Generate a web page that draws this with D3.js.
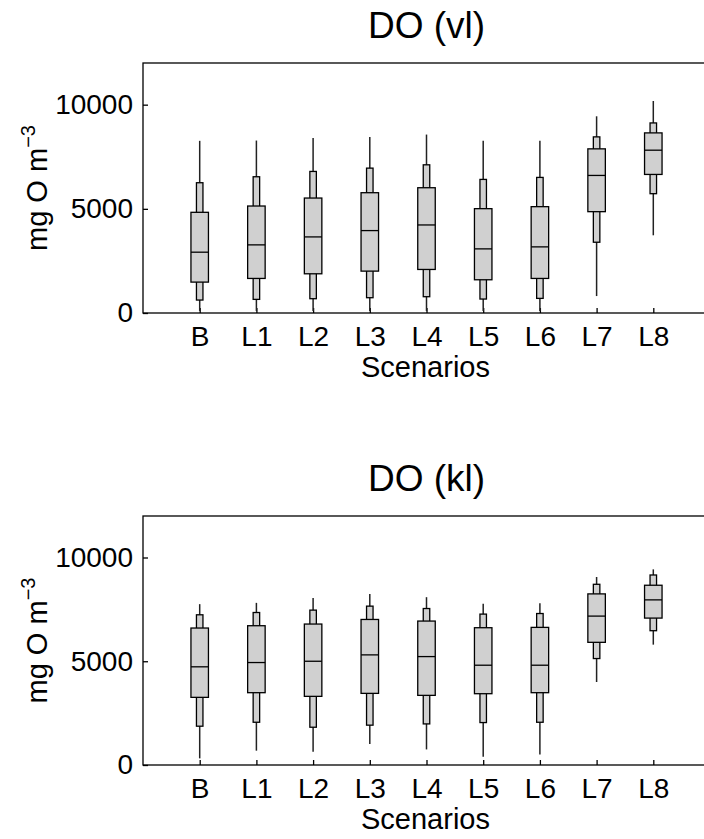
<!DOCTYPE html>
<html lang="en">
<head>
<meta charset="UTF-8">
<title>DO boxplots</title>
<script src="https://d3js.org/d3.v7.min.js"></script>
<style>
  body { margin: 0; background: #fff; }
  svg { display: block; font-family: "Liberation Sans", Arial, sans-serif; }
  .axis path, .axis line { stroke: #000; stroke-width: 1.3px; }
  .axis text { font-size: 28px; fill: #000; }
</style>
</head>
<body>
<svg width="704" height="839"></svg>
<script>
const scenarios = ["B", "L1", "L2", "L3", "L4", "L5", "L6", "L7", "L8"];
const yTicks = [0, 5000, 10000];

// DO (vl): whisker ends, inner (narrow) box, quartile box, median
const vlMin = [100, 100, 100, 100, 100, 100, 100, 813, 3730];
const vlLo  = [622, 654, 686, 734, 782, 670, 702, 3397, 5727];
const vlQ1  = [1483, 1659, 1882, 2010, 2090, 1595, 1659, 4864, 6651];
const vlMed = [2919, 3270, 3652, 3956, 4226, 3078, 3174, 6603, 7815];
const vlQ3  = [4833, 5135, 5518, 5774, 6013, 5008, 5104, 7879, 8645];
const vlHi  = [6253, 6540, 6795, 6954, 7113, 6412, 6508, 8454, 9123];
const vlMax = [8264, 8278, 8406, 8454, 8565, 8264, 8264, 9442, 10176];

// DO (kl)
const klMin = [320, 690, 640, 1010, 750, 400, 510, 4000, 5800];
const klLo  = [1870, 2060, 1820, 1920, 1980, 2045, 2060, 5130, 6472];
const klQ1  = [3260, 3485, 3308, 3452, 3356, 3436, 3485, 5912, 7080];
const klMed = [4732, 4938, 5000, 5307, 5225, 4809, 4809, 7176, 7958];
const klQ3  = [6601, 6712, 6793, 7014, 6937, 6616, 6632, 8246, 8663];
const klHi  = [7239, 7349, 7464, 7656, 7541, 7272, 7300, 8709, 9157];
const klMax = [7752, 7814, 8054, 8246, 8088, 7766, 7798, 9061, 9428];

function rows(min, lo, q1, med, q3, hi, max) {
  return scenarios.map((s, i) => ({
    name: s, min: min[i], lo: lo[i], q1: q1[i], med: med[i],
    q3: q3[i], hi: hi[i], max: max[i]
  }));
}

const panels = [
  { title: "DO (vl)", top: 63, bottom: 313, data: rows(vlMin, vlLo, vlQ1, vlMed, vlQ3, vlHi, vlMax) },
  { title: "DO (kl)", top: 516, bottom: 765, data: rows(klMin, klLo, klQ1, klMed, klQ3, klHi, klMax) }
];

const svg = d3.select("svg");
const left = 143, right = 710;
const wideW = 17.5, narrowW = 6.5;

const x = d3.scalePoint()
  .domain(scenarios)
  .range([left, right])
  .padding(1);

panels.forEach(p => {
  const y = d3.scaleLinear().domain([0, 12000]).range([p.bottom, p.top]);
  const g = svg.append("g");

  // frame
  g.append("rect")
    .attr("x", left).attr("y", p.top)
    .attr("width", right - left).attr("height", p.bottom - p.top)
    .attr("fill", "none").attr("stroke", "#000").attr("stroke-width", 1.3);

  g.append("g")
    .attr("class", "axis")
    .attr("transform", `translate(${left},0)`)
    .call(d3.axisLeft(y).tickValues(yTicks).tickFormat(d3.format("d"))
      .tickSizeInner(-5).tickSizeOuter(0).tickPadding(10))
    .call(a => a.select(".domain").remove());

  g.append("g")
    .attr("class", "axis")
    .attr("transform", `translate(0,${p.bottom})`)
    .call(d3.axisBottom(x).tickSizeInner(-5).tickSizeOuter(0).tickPadding(13))
    .call(a => a.select(".domain").remove())
    .selectAll("text").attr("dy", "0.71em");

  const box = g.selectAll(".box")
    .data(p.data)
    .enter().append("g")
    .attr("class", "box");

  box.append("line")
    .attr("x1", d => x(d.name)).attr("x2", d => x(d.name))
    .attr("y1", d => y(d.min)).attr("y2", d => y(d.max))
    .attr("stroke", "#222").attr("stroke-width", 1.5);

  box.append("rect")
    .attr("x", d => x(d.name) - narrowW / 2)
    .attr("y", d => y(d.hi))
    .attr("width", narrowW)
    .attr("height", d => y(d.lo) - y(d.hi))
    .attr("fill", "#d0d0d0").attr("stroke", "#000").attr("stroke-width", 1.3);

  box.append("rect")
    .attr("x", d => x(d.name) - wideW / 2)
    .attr("y", d => y(d.q3))
    .attr("width", wideW)
    .attr("height", d => y(d.q1) - y(d.q3))
    .attr("fill", "#d0d0d0").attr("stroke", "#000").attr("stroke-width", 1.3);

  box.append("line")
    .attr("x1", d => x(d.name) - wideW / 2).attr("x2", d => x(d.name) + wideW / 2)
    .attr("y1", d => y(d.med)).attr("y2", d => y(d.med))
    .attr("stroke", "#000").attr("stroke-width", 1.3);

  // title
  svg.append("text")
    .attr("x", (left + right) / 2)
    .attr("y", p.top - 25)
    .attr("text-anchor", "middle")
    .attr("font-size", 37)
    .text(p.title);

  // x label
  svg.append("text")
    .attr("x", (left + right) / 2 - 1)
    .attr("y", p.bottom + 64)
    .attr("text-anchor", "middle")
    .attr("font-size", 29)
    .text("Scenarios");

  // y label
  const yl = svg.append("text")
    .attr("transform", `translate(47,${(p.top + p.bottom) / 2}) rotate(-90)`)
    .attr("text-anchor", "middle")
    .attr("font-size", 29);
  yl.append("tspan").text("mg O m");
  yl.append("tspan").attr("dy", -12).attr("font-size", 20).text("\u22123");
});
</script>
</body>
</html>
